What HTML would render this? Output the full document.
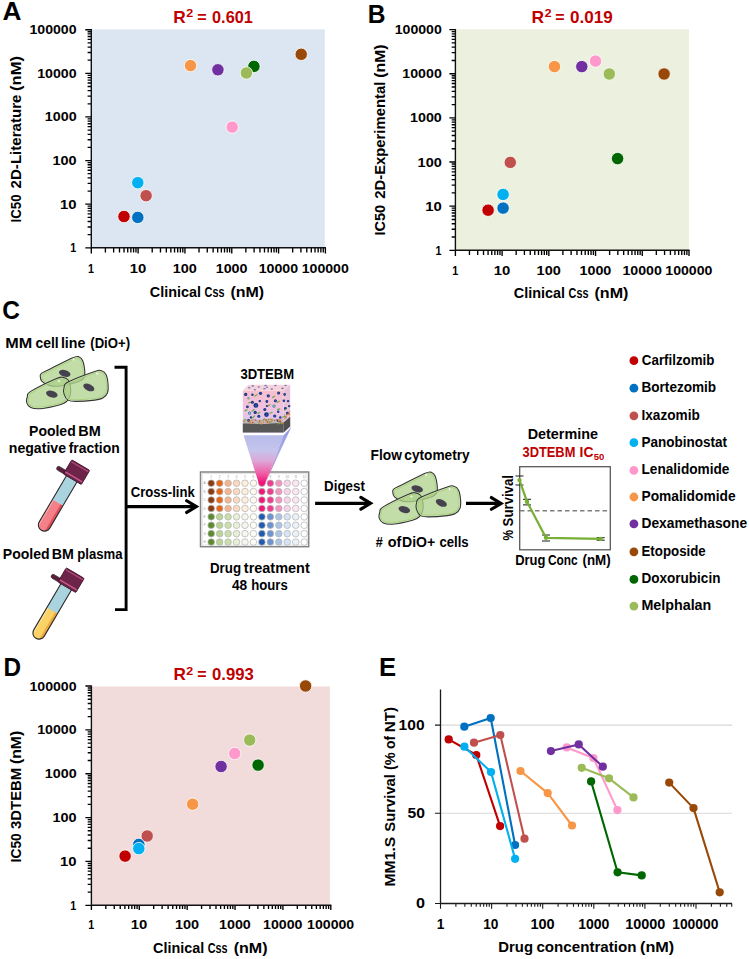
<!DOCTYPE html>
<html><head><meta charset="utf-8"><style>
html,body{margin:0;padding:0;background:#fff;overflow:hidden;width:749px;height:959px;}
svg{display:block;}
text{font-family:"Liberation Sans", sans-serif;white-space:pre;}
</style></head><body>
<svg xml:space="preserve" width="749" height="959" viewBox="0 0 749 959">
<rect width="749" height="959" fill="#fff"/>

<text x="2.55" y="19.80" font-size="25" font-weight="bold" fill="#000" textLength="18.94" lengthAdjust="spacingAndGlyphs" >A</text>
<text x="173.24" y="22.70" font-size="17" font-weight="bold" fill="#C00000" textLength="12.51" lengthAdjust="spacingAndGlyphs" >R</text>
<text x="186.27" y="17.40" font-size="10" font-weight="bold" fill="#C00000" textLength="6.93" lengthAdjust="spacingAndGlyphs" >2</text>
<text x="197.33" y="22.70" font-size="17" font-weight="bold" fill="#C00000" textLength="9.43" lengthAdjust="spacingAndGlyphs" >=</text>
<text x="212.06" y="22.70" font-size="17" font-weight="bold" fill="#C00000" textLength="40.80" lengthAdjust="spacingAndGlyphs" >0.601</text>
<rect x="91.90" y="29.40" width="232.90" height="218.40" fill="#DCE6F2"/>
<path d="M105.39,247.80v4.6 M91.30,234.67h-3.7 M113.64,247.80v4.6 M91.30,226.99h-3.7 M119.49,247.80v4.6 M91.30,221.54h-3.7 M124.03,247.80v4.6 M91.30,217.31h-3.7 M127.73,247.80v4.6 M91.30,213.86h-3.7 M130.87,247.80v4.6 M91.30,210.94h-3.7 M133.58,247.80v4.6 M91.30,208.41h-3.7 M135.98,247.80v4.6 M91.30,206.18h-3.7 M138.12,247.80v5.8 M91.30,204.18h-6.0 M152.21,247.80v4.6 M91.30,191.05h-3.7 M160.46,247.80v4.6 M91.30,183.37h-3.7 M166.31,247.80v4.6 M91.30,177.92h-3.7 M170.85,247.80v4.6 M91.30,173.69h-3.7 M174.55,247.80v4.6 M91.30,170.24h-3.7 M177.69,247.80v4.6 M91.30,167.32h-3.7 M180.40,247.80v4.6 M91.30,164.79h-3.7 M182.80,247.80v4.6 M91.30,162.56h-3.7 M184.94,247.80v5.8 M91.30,160.56h-6.0 M199.03,247.80v4.6 M91.30,147.43h-3.7 M207.28,247.80v4.6 M91.30,139.75h-3.7 M213.13,247.80v4.6 M91.30,134.30h-3.7 M217.67,247.80v4.6 M91.30,130.07h-3.7 M221.37,247.80v4.6 M91.30,126.62h-3.7 M224.51,247.80v4.6 M91.30,123.70h-3.7 M227.22,247.80v4.6 M91.30,121.17h-3.7 M229.62,247.80v4.6 M91.30,118.94h-3.7 M231.76,247.80v5.8 M91.30,116.94h-6.0 M245.85,247.80v4.6 M91.30,103.81h-3.7 M254.10,247.80v4.6 M91.30,96.13h-3.7 M259.95,247.80v4.6 M91.30,90.68h-3.7 M264.49,247.80v4.6 M91.30,86.45h-3.7 M268.19,247.80v4.6 M91.30,83.00h-3.7 M271.33,247.80v4.6 M91.30,80.08h-3.7 M274.04,247.80v4.6 M91.30,77.55h-3.7 M276.44,247.80v4.6 M91.30,75.32h-3.7 M278.58,247.80v5.8 M91.30,73.32h-6.0 M292.67,247.80v4.6 M91.30,60.19h-3.7 M300.92,247.80v4.6 M91.30,52.51h-3.7 M306.77,247.80v4.6 M91.30,47.06h-3.7 M311.31,247.80v4.6 M91.30,42.83h-3.7 M315.01,247.80v4.6 M91.30,39.38h-3.7 M318.15,247.80v4.6 M91.30,36.46h-3.7 M320.86,247.80v4.6 M91.30,33.93h-3.7 M323.26,247.80v4.6 M91.30,31.70h-3.7 M325.40,247.80v5.8 M91.30,29.70h-6 M91.30,247.80v5.8 M91.30,247.80h-6" stroke="#000" stroke-width="1.35" fill="none"/>
<path d="M91.30,29.10V247.80H326.00" stroke="#111" stroke-width="1.4" fill="none"/>
<text x="70.32" y="252.30" font-size="13.0" font-weight="bold" fill="#000" textLength="5.98" lengthAdjust="spacingAndGlyphs" >1</text>
<text x="88.12" y="272.90" font-size="13.0" font-weight="bold" fill="#000" textLength="5.98" lengthAdjust="spacingAndGlyphs" >1</text>
<text x="60.06" y="208.68" font-size="13.0" font-weight="bold" fill="#000" textLength="16.55" lengthAdjust="spacingAndGlyphs" >10</text>
<text x="129.68" y="272.90" font-size="13.0" font-weight="bold" fill="#000" textLength="16.55" lengthAdjust="spacingAndGlyphs" >10</text>
<text x="52.44" y="165.06" font-size="13.0" font-weight="bold" fill="#000" textLength="24.16" lengthAdjust="spacingAndGlyphs" >100</text>
<text x="172.70" y="272.90" font-size="13.0" font-weight="bold" fill="#000" textLength="24.16" lengthAdjust="spacingAndGlyphs" >100</text>
<text x="44.80" y="121.44" font-size="13.0" font-weight="bold" fill="#000" textLength="31.79" lengthAdjust="spacingAndGlyphs" >1000</text>
<text x="215.71" y="272.90" font-size="13.0" font-weight="bold" fill="#000" textLength="31.79" lengthAdjust="spacingAndGlyphs" >1000</text>
<text x="37.16" y="77.82" font-size="13.0" font-weight="bold" fill="#000" textLength="39.42" lengthAdjust="spacingAndGlyphs" >10000</text>
<text x="258.71" y="272.90" font-size="13.0" font-weight="bold" fill="#000" textLength="39.42" lengthAdjust="spacingAndGlyphs" >10000</text>
<text x="29.51" y="34.20" font-size="13.0" font-weight="bold" fill="#000" textLength="47.07" lengthAdjust="spacingAndGlyphs" >100000</text>
<text x="301.71" y="272.90" font-size="13.0" font-weight="bold" fill="#000" textLength="47.07" lengthAdjust="spacingAndGlyphs" >100000</text>
<text x="149.81" y="297.00" font-size="14.8" font-weight="bold" fill="#000" textLength="51.21" lengthAdjust="spacingAndGlyphs" >Clinical</text>
<text x="204.56" y="297.00" font-size="14.8" font-weight="bold" fill="#000" textLength="19.89" lengthAdjust="spacingAndGlyphs" >Css</text>
<text x="230.50" y="297.00" font-size="14.8" font-weight="bold" fill="#000" textLength="33.69" lengthAdjust="spacingAndGlyphs" >(nM)</text>
<text transform="translate(20.80,0) rotate(-90)" x="-222.49" y="0" font-size="14.8" font-weight="bold" fill="#000" textLength="28.03" lengthAdjust="spacingAndGlyphs" >IC50</text>
<text transform="translate(20.80,0) rotate(-90)" x="-188.42" y="0" font-size="14.8" font-weight="bold" fill="#000" textLength="93.84" lengthAdjust="spacingAndGlyphs" >2D-Literature</text>
<text transform="translate(20.80,0) rotate(-90)" x="-90.92" y="0" font-size="14.8" font-weight="bold" fill="#000" textLength="34.85" lengthAdjust="spacingAndGlyphs" >(nM)</text>
<circle cx="124.0" cy="216.5" r="6.2" fill="#C00000" stroke="#fff" stroke-width="0.8"/>
<circle cx="137.8" cy="217.4" r="6.2" fill="#0070C0" stroke="#fff" stroke-width="0.8"/>
<circle cx="146.1" cy="195.7" r="6.2" fill="#C0504D" stroke="#fff" stroke-width="0.8"/>
<circle cx="137.8" cy="182.7" r="6.2" fill="#00B0F0" stroke="#fff" stroke-width="0.8"/>
<circle cx="232.2" cy="127.1" r="6.2" fill="#FF99CC" stroke="#fff" stroke-width="0.8"/>
<circle cx="190.5" cy="65.6" r="6.2" fill="#F79646" stroke="#fff" stroke-width="0.8"/>
<circle cx="217.9" cy="69.8" r="6.2" fill="#7030A0" stroke="#fff" stroke-width="0.8"/>
<circle cx="301.2" cy="54.3" r="6.2" fill="#984807" stroke="#fff" stroke-width="0.8"/>
<circle cx="253.9" cy="66.4" r="6.2" fill="#006600" stroke="#fff" stroke-width="0.8"/>
<circle cx="246.4" cy="73.0" r="6.2" fill="#9BBB59" stroke="#fff" stroke-width="0.8"/>
<text x="367.75" y="22.70" font-size="25" font-weight="bold" fill="#000" textLength="17.76" lengthAdjust="spacingAndGlyphs" >B</text>
<text x="531.53" y="22.70" font-size="17" font-weight="bold" fill="#C00000" textLength="12.63" lengthAdjust="spacingAndGlyphs" >R</text>
<text x="544.68" y="17.40" font-size="10" font-weight="bold" fill="#C00000" textLength="6.82" lengthAdjust="spacingAndGlyphs" >2</text>
<text x="555.34" y="22.70" font-size="17" font-weight="bold" fill="#C00000" textLength="9.32" lengthAdjust="spacingAndGlyphs" >=</text>
<text x="570.03" y="22.70" font-size="17" font-weight="bold" fill="#C00000" textLength="42.71" lengthAdjust="spacingAndGlyphs" >0.019</text>
<rect x="456.00" y="29.30" width="233.00" height="221.00" fill="#EBF1DE"/>
<path d="M469.46,250.30v4.6 M455.40,237.01h-3.7 M477.69,250.30v4.6 M455.40,229.24h-3.7 M483.53,250.30v4.6 M455.40,223.73h-3.7 M488.06,250.30v4.6 M455.40,219.45h-3.7 M491.76,250.30v4.6 M455.40,215.95h-3.7 M494.88,250.30v4.6 M455.40,213.00h-3.7 M497.59,250.30v4.6 M455.40,210.44h-3.7 M499.98,250.30v4.6 M455.40,208.18h-3.7 M502.12,250.30v5.8 M455.40,206.16h-6.0 M516.18,250.30v4.6 M455.40,192.87h-3.7 M524.41,250.30v4.6 M455.40,185.10h-3.7 M530.25,250.30v4.6 M455.40,179.59h-3.7 M534.78,250.30v4.6 M455.40,175.31h-3.7 M538.48,250.30v4.6 M455.40,171.81h-3.7 M541.60,250.30v4.6 M455.40,168.86h-3.7 M544.31,250.30v4.6 M455.40,166.30h-3.7 M546.70,250.30v4.6 M455.40,164.04h-3.7 M548.84,250.30v5.8 M455.40,162.02h-6.0 M562.90,250.30v4.6 M455.40,148.73h-3.7 M571.13,250.30v4.6 M455.40,140.96h-3.7 M576.97,250.30v4.6 M455.40,135.45h-3.7 M581.50,250.30v4.6 M455.40,131.17h-3.7 M585.20,250.30v4.6 M455.40,127.67h-3.7 M588.32,250.30v4.6 M455.40,124.72h-3.7 M591.03,250.30v4.6 M455.40,122.16h-3.7 M593.42,250.30v4.6 M455.40,119.90h-3.7 M595.56,250.30v5.8 M455.40,117.88h-6.0 M609.62,250.30v4.6 M455.40,104.59h-3.7 M617.85,250.30v4.6 M455.40,96.82h-3.7 M623.69,250.30v4.6 M455.40,91.31h-3.7 M628.22,250.30v4.6 M455.40,87.03h-3.7 M631.92,250.30v4.6 M455.40,83.53h-3.7 M635.04,250.30v4.6 M455.40,80.58h-3.7 M637.75,250.30v4.6 M455.40,78.02h-3.7 M640.14,250.30v4.6 M455.40,75.76h-3.7 M642.28,250.30v5.8 M455.40,73.74h-6.0 M656.34,250.30v4.6 M455.40,60.45h-3.7 M664.57,250.30v4.6 M455.40,52.68h-3.7 M670.41,250.30v4.6 M455.40,47.17h-3.7 M674.94,250.30v4.6 M455.40,42.89h-3.7 M678.64,250.30v4.6 M455.40,39.39h-3.7 M681.76,250.30v4.6 M455.40,36.44h-3.7 M684.47,250.30v4.6 M455.40,33.88h-3.7 M686.86,250.30v4.6 M455.40,31.62h-3.7 M689.00,250.30v5.8 M455.40,29.60h-6 M455.40,250.30v5.8 M455.40,250.30h-6" stroke="#000" stroke-width="1.35" fill="none"/>
<path d="M455.40,29.00V250.30H689.60" stroke="#111" stroke-width="1.4" fill="none"/>
<text x="435.52" y="254.80" font-size="13.0" font-weight="bold" fill="#000" textLength="5.98" lengthAdjust="spacingAndGlyphs" >1</text>
<text x="452.22" y="274.70" font-size="13.0" font-weight="bold" fill="#000" textLength="5.98" lengthAdjust="spacingAndGlyphs" >1</text>
<text x="425.26" y="210.66" font-size="13.0" font-weight="bold" fill="#000" textLength="16.55" lengthAdjust="spacingAndGlyphs" >10</text>
<text x="493.68" y="274.70" font-size="13.0" font-weight="bold" fill="#000" textLength="16.55" lengthAdjust="spacingAndGlyphs" >10</text>
<text x="417.64" y="166.52" font-size="13.0" font-weight="bold" fill="#000" textLength="24.16" lengthAdjust="spacingAndGlyphs" >100</text>
<text x="536.60" y="274.70" font-size="13.0" font-weight="bold" fill="#000" textLength="24.16" lengthAdjust="spacingAndGlyphs" >100</text>
<text x="410.00" y="122.38" font-size="13.0" font-weight="bold" fill="#000" textLength="31.79" lengthAdjust="spacingAndGlyphs" >1000</text>
<text x="579.51" y="274.70" font-size="13.0" font-weight="bold" fill="#000" textLength="31.79" lengthAdjust="spacingAndGlyphs" >1000</text>
<text x="402.36" y="78.24" font-size="13.0" font-weight="bold" fill="#000" textLength="39.42" lengthAdjust="spacingAndGlyphs" >10000</text>
<text x="622.41" y="274.70" font-size="13.0" font-weight="bold" fill="#000" textLength="39.42" lengthAdjust="spacingAndGlyphs" >10000</text>
<text x="394.71" y="34.10" font-size="13.0" font-weight="bold" fill="#000" textLength="47.07" lengthAdjust="spacingAndGlyphs" >100000</text>
<text x="665.31" y="274.70" font-size="13.0" font-weight="bold" fill="#000" textLength="47.07" lengthAdjust="spacingAndGlyphs" >100000</text>
<text x="513.81" y="298.00" font-size="14.8" font-weight="bold" fill="#000" textLength="51.21" lengthAdjust="spacingAndGlyphs" >Clinical</text>
<text x="568.56" y="298.00" font-size="14.8" font-weight="bold" fill="#000" textLength="19.89" lengthAdjust="spacingAndGlyphs" >Css</text>
<text x="594.50" y="298.00" font-size="14.8" font-weight="bold" fill="#000" textLength="33.90" lengthAdjust="spacingAndGlyphs" >(nM)</text>
<text transform="translate(385.10,0) rotate(-90)" x="-235.47" y="0" font-size="14.8" font-weight="bold" fill="#000" textLength="30.67" lengthAdjust="spacingAndGlyphs" >IC50</text>
<text transform="translate(385.10,0) rotate(-90)" x="-198.71" y="0" font-size="14.8" font-weight="bold" fill="#000" textLength="116.96" lengthAdjust="spacingAndGlyphs" >2D-Experimental</text>
<text transform="translate(385.10,0) rotate(-90)" x="-77.79" y="0" font-size="14.8" font-weight="bold" fill="#000" textLength="33.38" lengthAdjust="spacingAndGlyphs" >(nM)</text>
<circle cx="488.1" cy="210.2" r="6.2" fill="#C00000" stroke="#fff" stroke-width="0.8"/>
<circle cx="503.1" cy="208.1" r="6.2" fill="#0070C0" stroke="#fff" stroke-width="0.8"/>
<circle cx="510.3" cy="162.4" r="6.2" fill="#C0504D" stroke="#fff" stroke-width="0.8"/>
<circle cx="503.1" cy="194.4" r="6.2" fill="#00B0F0" stroke="#fff" stroke-width="0.8"/>
<circle cx="595.5" cy="61.1" r="6.2" fill="#FF99CC" stroke="#fff" stroke-width="0.8"/>
<circle cx="554.5" cy="66.6" r="6.2" fill="#F79646" stroke="#fff" stroke-width="0.8"/>
<circle cx="581.8" cy="66.6" r="6.2" fill="#7030A0" stroke="#fff" stroke-width="0.8"/>
<circle cx="664.1" cy="74.0" r="6.2" fill="#984807" stroke="#fff" stroke-width="0.8"/>
<circle cx="617.6" cy="158.6" r="6.2" fill="#006600" stroke="#fff" stroke-width="0.8"/>
<circle cx="609.3" cy="74.0" r="6.2" fill="#9BBB59" stroke="#fff" stroke-width="0.8"/>
<text x="3.47" y="675.80" font-size="25" font-weight="bold" fill="#000" textLength="17.55" lengthAdjust="spacingAndGlyphs" >D</text>
<text x="173.55" y="680.10" font-size="17" font-weight="bold" fill="#C00000" textLength="12.40" lengthAdjust="spacingAndGlyphs" >R</text>
<text x="186.27" y="674.80" font-size="10" font-weight="bold" fill="#C00000" textLength="6.93" lengthAdjust="spacingAndGlyphs" >2</text>
<text x="197.34" y="680.10" font-size="17" font-weight="bold" fill="#C00000" textLength="9.32" lengthAdjust="spacingAndGlyphs" >=</text>
<text x="212.04" y="680.10" font-size="17" font-weight="bold" fill="#C00000" textLength="41.76" lengthAdjust="spacingAndGlyphs" >0.993</text>
<rect x="92.00" y="686.50" width="237.90" height="218.80" fill="#F2DCDB"/>
<path d="M105.81,905.30v3.6 M91.40,892.10h-3.7 M114.24,905.30v3.6 M91.40,884.37h-3.7 M120.23,905.30v3.6 M91.40,878.89h-3.7 M124.87,905.30v3.6 M91.40,874.64h-3.7 M128.66,905.30v3.6 M91.40,871.17h-3.7 M131.86,905.30v3.6 M91.40,868.23h-3.7 M134.64,905.30v3.6 M91.40,865.69h-3.7 M137.09,905.30v3.6 M91.40,863.45h-3.7 M139.28,905.30v4.6 M91.40,861.44h-6.0 M153.69,905.30v3.6 M91.40,848.24h-3.7 M162.12,905.30v3.6 M91.40,840.51h-3.7 M168.11,905.30v3.6 M91.40,835.03h-3.7 M172.75,905.30v3.6 M91.40,830.78h-3.7 M176.54,905.30v3.6 M91.40,827.31h-3.7 M179.74,905.30v3.6 M91.40,824.37h-3.7 M182.52,905.30v3.6 M91.40,821.83h-3.7 M184.97,905.30v3.6 M91.40,819.59h-3.7 M187.16,905.30v4.6 M91.40,817.58h-6.0 M201.57,905.30v3.6 M91.40,804.38h-3.7 M210.00,905.30v3.6 M91.40,796.65h-3.7 M215.99,905.30v3.6 M91.40,791.17h-3.7 M220.63,905.30v3.6 M91.40,786.92h-3.7 M224.42,905.30v3.6 M91.40,783.45h-3.7 M227.62,905.30v3.6 M91.40,780.51h-3.7 M230.40,905.30v3.6 M91.40,777.97h-3.7 M232.85,905.30v3.6 M91.40,775.73h-3.7 M235.04,905.30v4.6 M91.40,773.72h-6.0 M249.45,905.30v3.6 M91.40,760.52h-3.7 M257.88,905.30v3.6 M91.40,752.79h-3.7 M263.87,905.30v3.6 M91.40,747.31h-3.7 M268.51,905.30v3.6 M91.40,743.06h-3.7 M272.30,905.30v3.6 M91.40,739.59h-3.7 M275.50,905.30v3.6 M91.40,736.65h-3.7 M278.28,905.30v3.6 M91.40,734.11h-3.7 M280.73,905.30v3.6 M91.40,731.87h-3.7 M282.92,905.30v4.6 M91.40,729.86h-6.0 M297.33,905.30v3.6 M91.40,716.66h-3.7 M305.76,905.30v3.6 M91.40,708.93h-3.7 M311.75,905.30v3.6 M91.40,703.45h-3.7 M316.39,905.30v3.6 M91.40,699.20h-3.7 M320.18,905.30v3.6 M91.40,695.73h-3.7 M323.38,905.30v3.6 M91.40,692.79h-3.7 M326.16,905.30v3.6 M91.40,690.25h-3.7 M328.61,905.30v3.6 M91.40,688.01h-3.7 M330.80,905.30v4.6 M91.40,686.00h-6 M91.40,905.30v4.6 M91.40,905.30h-6" stroke="#000" stroke-width="1.35" fill="none"/>
<path d="M91.40,685.40V905.30H331.40" stroke="#111" stroke-width="1.4" fill="none"/>
<text x="70.32" y="909.90" font-size="13.0" font-weight="bold" fill="#000" textLength="5.98" lengthAdjust="spacingAndGlyphs" >1</text>
<text x="88.22" y="929.10" font-size="13.0" font-weight="bold" fill="#000" textLength="5.98" lengthAdjust="spacingAndGlyphs" >1</text>
<text x="60.06" y="866.02" font-size="13.0" font-weight="bold" fill="#000" textLength="16.55" lengthAdjust="spacingAndGlyphs" >10</text>
<text x="130.84" y="929.10" font-size="13.0" font-weight="bold" fill="#000" textLength="16.55" lengthAdjust="spacingAndGlyphs" >10</text>
<text x="52.44" y="822.14" font-size="13.0" font-weight="bold" fill="#000" textLength="24.16" lengthAdjust="spacingAndGlyphs" >100</text>
<text x="174.92" y="929.10" font-size="13.0" font-weight="bold" fill="#000" textLength="24.16" lengthAdjust="spacingAndGlyphs" >100</text>
<text x="44.80" y="778.26" font-size="13.0" font-weight="bold" fill="#000" textLength="31.79" lengthAdjust="spacingAndGlyphs" >1000</text>
<text x="218.99" y="929.10" font-size="13.0" font-weight="bold" fill="#000" textLength="31.79" lengthAdjust="spacingAndGlyphs" >1000</text>
<text x="37.16" y="734.38" font-size="13.0" font-weight="bold" fill="#000" textLength="39.42" lengthAdjust="spacingAndGlyphs" >10000</text>
<text x="263.05" y="929.10" font-size="13.0" font-weight="bold" fill="#000" textLength="39.42" lengthAdjust="spacingAndGlyphs" >10000</text>
<text x="29.51" y="690.50" font-size="13.0" font-weight="bold" fill="#000" textLength="47.07" lengthAdjust="spacingAndGlyphs" >100000</text>
<text x="307.11" y="929.10" font-size="13.0" font-weight="bold" fill="#000" textLength="47.07" lengthAdjust="spacingAndGlyphs" >100000</text>
<text x="153.01" y="953.40" font-size="14.8" font-weight="bold" fill="#000" textLength="51.21" lengthAdjust="spacingAndGlyphs" >Clinical</text>
<text x="207.76" y="953.40" font-size="14.8" font-weight="bold" fill="#000" textLength="19.89" lengthAdjust="spacingAndGlyphs" >Css</text>
<text x="233.70" y="953.40" font-size="14.8" font-weight="bold" fill="#000" textLength="33.90" lengthAdjust="spacingAndGlyphs" >(nM)</text>
<text transform="translate(20.90,0) rotate(-90)" x="-862.42" y="0" font-size="14.8" font-weight="bold" fill="#000" textLength="29.19" lengthAdjust="spacingAndGlyphs" >IC50</text>
<text transform="translate(20.90,0) rotate(-90)" x="-828.94" y="0" font-size="14.8" font-weight="bold" fill="#000" textLength="61.14" lengthAdjust="spacingAndGlyphs" >3DTEBM</text>
<text transform="translate(20.90,0) rotate(-90)" x="-764.09" y="0" font-size="14.8" font-weight="bold" fill="#000" textLength="33.27" lengthAdjust="spacingAndGlyphs" >(nM)</text>
<circle cx="125.1" cy="856.1" r="6.2" fill="#C00000" stroke="#fff" stroke-width="0.8"/>
<circle cx="138.8" cy="844.4" r="6.2" fill="#0070C0" stroke="#fff" stroke-width="0.8"/>
<circle cx="147.2" cy="836.0" r="6.2" fill="#C0504D" stroke="#fff" stroke-width="0.8"/>
<circle cx="138.8" cy="848.6" r="6.2" fill="#00B0F0" stroke="#fff" stroke-width="0.8"/>
<circle cx="234.7" cy="753.5" r="6.2" fill="#FF99CC" stroke="#fff" stroke-width="0.8"/>
<circle cx="192.6" cy="804.2" r="6.2" fill="#F79646" stroke="#fff" stroke-width="0.8"/>
<circle cx="221.1" cy="766.5" r="6.2" fill="#7030A0" stroke="#fff" stroke-width="0.8"/>
<circle cx="305.6" cy="686.0" r="6.2" fill="#984807" stroke="#fff" stroke-width="0.8"/>
<circle cx="258.1" cy="765.1" r="6.2" fill="#006600" stroke="#fff" stroke-width="0.8"/>
<circle cx="249.7" cy="740.1" r="6.2" fill="#9BBB59" stroke="#fff" stroke-width="0.8"/>
<text x="378.98" y="676.00" font-size="25" font-weight="bold" fill="#000" textLength="17.12" lengthAdjust="spacingAndGlyphs" >E</text>
<path d="M441,725.1H732.3M441,813.3H732.3" stroke="#D9D9D9" stroke-width="1.1"/>
<path d="M440.50,903.5v5.2 M455.88,903.5v3.2 M464.88,903.5v3.2 M471.27,903.5v3.2 M476.22,903.5v3.2 M480.26,903.5v3.2 M483.68,903.5v3.2 M486.65,903.5v3.2 M489.26,903.5v3.2 M491.60,903.5v5.2 M506.98,903.5v3.2 M515.98,903.5v3.2 M522.37,903.5v3.2 M527.32,903.5v3.2 M531.36,903.5v3.2 M534.78,903.5v3.2 M537.75,903.5v3.2 M540.36,903.5v3.2 M542.70,903.5v5.2 M558.08,903.5v3.2 M567.08,903.5v3.2 M573.47,903.5v3.2 M578.42,903.5v3.2 M582.46,903.5v3.2 M585.88,903.5v3.2 M588.85,903.5v3.2 M591.46,903.5v3.2 M593.80,903.5v5.2 M609.18,903.5v3.2 M618.18,903.5v3.2 M624.57,903.5v3.2 M629.52,903.5v3.2 M633.56,903.5v3.2 M636.98,903.5v3.2 M639.95,903.5v3.2 M642.56,903.5v3.2 M644.90,903.5v5.2 M660.28,903.5v3.2 M669.28,903.5v3.2 M675.67,903.5v3.2 M680.62,903.5v3.2 M684.66,903.5v3.2 M688.08,903.5v3.2 M691.05,903.5v3.2 M693.66,903.5v3.2 M696.00,903.5v5.2 M711.38,903.5v3.2 M720.38,903.5v3.2 M726.77,903.5v3.2 M731.72,903.5v3.2 M440.5,725.1h-5.5M440.5,813.3h-5.5M440.5,903.5h-5.5" stroke="#1a1a1a" stroke-width="1.1" fill="none"/>
<path d="M440.5,689.4V903.5H732" stroke="#1a1a1a" stroke-width="1.3" fill="none"/>
<text x="398.62" y="729.70" font-size="14.2" font-weight="bold" fill="#000" textLength="25.92" lengthAdjust="spacingAndGlyphs" >100</text>
<text x="407.52" y="818.30" font-size="14.2" font-weight="bold" fill="#000" textLength="17.42" lengthAdjust="spacingAndGlyphs" >50</text>
<text x="415.96" y="908.40" font-size="14.2" font-weight="bold" fill="#000" textLength="9.00" lengthAdjust="spacingAndGlyphs" >0</text>
<text x="436.63" y="928.70" font-size="14.0" font-weight="bold" fill="#000" textLength="7.65" lengthAdjust="spacingAndGlyphs" >1</text>
<text x="483.14" y="928.70" font-size="14.0" font-weight="bold" fill="#000" textLength="15.22" lengthAdjust="spacingAndGlyphs" >10</text>
<text x="530.49" y="928.70" font-size="14.0" font-weight="bold" fill="#000" textLength="24.21" lengthAdjust="spacingAndGlyphs" >100</text>
<text x="578.22" y="928.70" font-size="14.0" font-weight="bold" fill="#000" textLength="31.16" lengthAdjust="spacingAndGlyphs" >1000</text>
<text x="625.39" y="928.70" font-size="14.0" font-weight="bold" fill="#000" textLength="40.00" lengthAdjust="spacingAndGlyphs" >10000</text>
<text x="672.23" y="928.70" font-size="14.0" font-weight="bold" fill="#000" textLength="46.14" lengthAdjust="spacingAndGlyphs" >100000</text>
<text x="498.31" y="952.10" font-size="14.8" font-weight="bold" fill="#000" textLength="34.69" lengthAdjust="spacingAndGlyphs" >Drug</text>
<text x="536.41" y="952.10" font-size="14.8" font-weight="bold" fill="#000" textLength="100.13" lengthAdjust="spacingAndGlyphs" >concentration</text>
<text x="639.99" y="952.10" font-size="14.8" font-weight="bold" fill="#000" textLength="34.22" lengthAdjust="spacingAndGlyphs" >(nM)</text>
<text transform="translate(394.70,0) rotate(-90)" x="-886.45" y="0" font-size="14.8" font-weight="bold" fill="#000" textLength="49.66" lengthAdjust="spacingAndGlyphs" >MM1.S</text>
<text transform="translate(394.70,0) rotate(-90)" x="-831.63" y="0" font-size="14.8" font-weight="bold" fill="#000" textLength="57.57" lengthAdjust="spacingAndGlyphs" >Survival</text>
<text transform="translate(394.70,0) rotate(-90)" x="-770.02" y="0" font-size="14.8" font-weight="bold" fill="#000" textLength="17.70" lengthAdjust="spacingAndGlyphs" >(%</text>
<text transform="translate(394.70,0) rotate(-90)" x="-749.04" y="0" font-size="14.8" font-weight="bold" fill="#000" textLength="13.01" lengthAdjust="spacingAndGlyphs" >of</text>
<text transform="translate(394.70,0) rotate(-90)" x="-732.31" y="0" font-size="14.8" font-weight="bold" fill="#000" textLength="25.27" lengthAdjust="spacingAndGlyphs" >NT)</text>
<path d="M448.7,739.4 L476.3,755.0 L500.1,826.1" stroke="#C00000" stroke-width="2.1" fill="none" stroke-linejoin="round"/>
<circle cx="448.7" cy="739.4" r="4.1" fill="#C00000"/>
<circle cx="476.3" cy="755.0" r="4.1" fill="#C00000"/>
<circle cx="500.1" cy="826.1" r="4.1" fill="#C00000"/>
<path d="M464.3,726.7 L490.7,718.0 L515.1,845.0" stroke="#0070C0" stroke-width="2.1" fill="none" stroke-linejoin="round"/>
<circle cx="464.3" cy="726.7" r="4.1" fill="#0070C0"/>
<circle cx="490.7" cy="718.0" r="4.1" fill="#0070C0"/>
<circle cx="515.1" cy="845.0" r="4.1" fill="#0070C0"/>
<path d="M474.0,742.7 L500.3,735.0 L524.5,838.7" stroke="#C0504D" stroke-width="2.1" fill="none" stroke-linejoin="round"/>
<circle cx="474.0" cy="742.7" r="4.1" fill="#C0504D"/>
<circle cx="500.3" cy="735.0" r="4.1" fill="#C0504D"/>
<circle cx="524.5" cy="838.7" r="4.1" fill="#C0504D"/>
<path d="M464.4,746.7 L491.0,772.1 L515.1,858.8" stroke="#00B0F0" stroke-width="2.1" fill="none" stroke-linejoin="round"/>
<circle cx="464.4" cy="746.7" r="4.1" fill="#00B0F0"/>
<circle cx="491.0" cy="772.1" r="4.1" fill="#00B0F0"/>
<circle cx="515.1" cy="858.8" r="4.1" fill="#00B0F0"/>
<path d="M566.7,747.4 L593.4,758.0 L617.4,810.1" stroke="#FF99CC" stroke-width="2.1" fill="none" stroke-linejoin="round"/>
<circle cx="566.7" cy="747.4" r="4.1" fill="#FF99CC"/>
<circle cx="593.4" cy="758.0" r="4.1" fill="#FF99CC"/>
<circle cx="617.4" cy="810.1" r="4.1" fill="#FF99CC"/>
<path d="M520.5,771.0 L547.7,793.1 L572.0,825.5" stroke="#F79646" stroke-width="2.1" fill="none" stroke-linejoin="round"/>
<circle cx="520.5" cy="771.0" r="4.1" fill="#F79646"/>
<circle cx="547.7" cy="793.1" r="4.1" fill="#F79646"/>
<circle cx="572.0" cy="825.5" r="4.1" fill="#F79646"/>
<path d="M550.9,751.1 L578.7,744.4 L602.8,766.7" stroke="#7030A0" stroke-width="2.1" fill="none" stroke-linejoin="round"/>
<circle cx="550.9" cy="751.1" r="4.1" fill="#7030A0"/>
<circle cx="578.7" cy="744.4" r="4.1" fill="#7030A0"/>
<circle cx="602.8" cy="766.7" r="4.1" fill="#7030A0"/>
<path d="M669.2,782.6 L693.5,808.1 L719.7,892.3" stroke="#984807" stroke-width="2.1" fill="none" stroke-linejoin="round"/>
<circle cx="669.2" cy="782.6" r="4.1" fill="#984807"/>
<circle cx="693.5" cy="808.1" r="4.1" fill="#984807"/>
<circle cx="719.7" cy="892.3" r="4.1" fill="#984807"/>
<path d="M591.1,781.4 L617.6,872.3 L641.7,875.4" stroke="#006600" stroke-width="2.1" fill="none" stroke-linejoin="round"/>
<circle cx="591.1" cy="781.4" r="4.1" fill="#006600"/>
<circle cx="617.6" cy="872.3" r="4.1" fill="#006600"/>
<circle cx="641.7" cy="875.4" r="4.1" fill="#006600"/>
<path d="M581.7,767.8 L609.0,778.3 L633.5,797.4" stroke="#9BBB59" stroke-width="2.1" fill="none" stroke-linejoin="round"/>
<circle cx="581.7" cy="767.8" r="4.1" fill="#9BBB59"/>
<circle cx="609.0" cy="778.3" r="4.1" fill="#9BBB59"/>
<circle cx="633.5" cy="797.4" r="4.1" fill="#9BBB59"/>
<g id="cells"><clipPath id="cc0"><path d="M41.40,373.40 C43.13,372.07 45.58,371.27 50.70,368.70 C55.82,366.13 67.43,360.00 72.10,358.00 C76.77,356.00 76.93,356.25 78.70,356.70 C80.47,357.15 81.68,358.25 82.70,360.70 C83.72,363.15 84.57,368.62 84.80,371.40 C85.03,374.18 85.12,375.73 84.10,377.40 C83.08,379.07 82.70,379.97 78.70,381.40 C74.70,382.83 64.98,385.33 60.10,386.00 C55.22,386.67 52.42,386.17 49.40,385.40 C46.38,384.63 43.52,382.85 42.00,381.40 C40.48,379.95 40.40,378.03 40.30,376.70 C40.20,375.37 39.67,374.73 41.40,373.40Z"/></clipPath><path d="M41.40,373.40 C43.13,372.07 45.58,371.27 50.70,368.70 C55.82,366.13 67.43,360.00 72.10,358.00 C76.77,356.00 76.93,356.25 78.70,356.70 C80.47,357.15 81.68,358.25 82.70,360.70 C83.72,363.15 84.57,368.62 84.80,371.40 C85.03,374.18 85.12,375.73 84.10,377.40 C83.08,379.07 82.70,379.97 78.70,381.40 C74.70,382.83 64.98,385.33 60.10,386.00 C55.22,386.67 52.42,386.17 49.40,385.40 C46.38,384.63 43.52,382.85 42.00,381.40 C40.48,379.95 40.40,378.03 40.30,376.70 C40.20,375.37 39.67,374.73 41.40,373.40Z" fill="#AFD28B" fill-opacity="0.76"/><path d="M41.40,373.40 C43.13,372.07 45.58,371.27 50.70,368.70 C55.82,366.13 67.43,360.00 72.10,358.00 C76.77,356.00 76.93,356.25 78.70,356.70 C80.47,357.15 81.68,358.25 82.70,360.70 C83.72,363.15 84.57,368.62 84.80,371.40 C85.03,374.18 85.12,375.73 84.10,377.40 C83.08,379.07 82.70,379.97 78.70,381.40 C74.70,382.83 64.98,385.33 60.10,386.00 C55.22,386.67 52.42,386.17 49.40,385.40 C46.38,384.63 43.52,382.85 42.00,381.40 C40.48,379.95 40.40,378.03 40.30,376.70 C40.20,375.37 39.67,374.73 41.40,373.40Z" fill="none" stroke="#94C95C" stroke-width="4.2" clip-path="url(#cc0)" stroke-opacity="0.55"/><path d="M41.40,373.40 C43.13,372.07 45.58,371.27 50.70,368.70 C55.82,366.13 67.43,360.00 72.10,358.00 C76.77,356.00 76.93,356.25 78.70,356.70 C80.47,357.15 81.68,358.25 82.70,360.70 C83.72,363.15 84.57,368.62 84.80,371.40 C85.03,374.18 85.12,375.73 84.10,377.40 C83.08,379.07 82.70,379.97 78.70,381.40 C74.70,382.83 64.98,385.33 60.10,386.00 C55.22,386.67 52.42,386.17 49.40,385.40 C46.38,384.63 43.52,382.85 42.00,381.40 C40.48,379.95 40.40,378.03 40.30,376.70 C40.20,375.37 39.67,374.73 41.40,373.40Z" fill="none" stroke="#E4F2D6" stroke-width="2.2" clip-path="url(#cc0)" stroke-opacity="0.9"/><path d="M41.40,373.40 C43.13,372.07 45.58,371.27 50.70,368.70 C55.82,366.13 67.43,360.00 72.10,358.00 C76.77,356.00 76.93,356.25 78.70,356.70 C80.47,357.15 81.68,358.25 82.70,360.70 C83.72,363.15 84.57,368.62 84.80,371.40 C85.03,374.18 85.12,375.73 84.10,377.40 C83.08,379.07 82.70,379.97 78.70,381.40 C74.70,382.83 64.98,385.33 60.10,386.00 C55.22,386.67 52.42,386.17 49.40,385.40 C46.38,384.63 43.52,382.85 42.00,381.40 C40.48,379.95 40.40,378.03 40.30,376.70 C40.20,375.37 39.67,374.73 41.40,373.40Z" fill="none" stroke="#363636" stroke-width="1.1"/><ellipse cx="64.7" cy="373.4" rx="5.9" ry="3.3" transform="rotate(15 64.7 373.4)" fill="#45414F"/><clipPath id="cc1"><path d="M27.30,396.70 C27.97,394.82 25.92,394.40 30.70,391.40 C35.48,388.40 50.67,381.03 56.00,378.70 C61.33,376.37 60.68,377.18 62.70,377.40 C64.72,377.62 66.80,378.33 68.10,380.00 C69.40,381.67 70.17,384.83 70.50,387.40 C70.83,389.97 70.73,393.07 70.10,395.40 C69.47,397.73 68.37,399.85 66.70,401.40 C65.03,402.95 64.55,403.48 60.10,404.70 C55.65,405.92 44.90,408.25 40.00,408.70 C35.10,409.15 32.92,408.40 30.70,407.40 C28.48,406.40 27.27,404.48 26.70,402.70 C26.13,400.92 26.63,398.58 27.30,396.70Z"/></clipPath><path d="M27.30,396.70 C27.97,394.82 25.92,394.40 30.70,391.40 C35.48,388.40 50.67,381.03 56.00,378.70 C61.33,376.37 60.68,377.18 62.70,377.40 C64.72,377.62 66.80,378.33 68.10,380.00 C69.40,381.67 70.17,384.83 70.50,387.40 C70.83,389.97 70.73,393.07 70.10,395.40 C69.47,397.73 68.37,399.85 66.70,401.40 C65.03,402.95 64.55,403.48 60.10,404.70 C55.65,405.92 44.90,408.25 40.00,408.70 C35.10,409.15 32.92,408.40 30.70,407.40 C28.48,406.40 27.27,404.48 26.70,402.70 C26.13,400.92 26.63,398.58 27.30,396.70Z" fill="#AFD28B" fill-opacity="0.76"/><path d="M27.30,396.70 C27.97,394.82 25.92,394.40 30.70,391.40 C35.48,388.40 50.67,381.03 56.00,378.70 C61.33,376.37 60.68,377.18 62.70,377.40 C64.72,377.62 66.80,378.33 68.10,380.00 C69.40,381.67 70.17,384.83 70.50,387.40 C70.83,389.97 70.73,393.07 70.10,395.40 C69.47,397.73 68.37,399.85 66.70,401.40 C65.03,402.95 64.55,403.48 60.10,404.70 C55.65,405.92 44.90,408.25 40.00,408.70 C35.10,409.15 32.92,408.40 30.70,407.40 C28.48,406.40 27.27,404.48 26.70,402.70 C26.13,400.92 26.63,398.58 27.30,396.70Z" fill="none" stroke="#94C95C" stroke-width="4.2" clip-path="url(#cc1)" stroke-opacity="0.55"/><path d="M27.30,396.70 C27.97,394.82 25.92,394.40 30.70,391.40 C35.48,388.40 50.67,381.03 56.00,378.70 C61.33,376.37 60.68,377.18 62.70,377.40 C64.72,377.62 66.80,378.33 68.10,380.00 C69.40,381.67 70.17,384.83 70.50,387.40 C70.83,389.97 70.73,393.07 70.10,395.40 C69.47,397.73 68.37,399.85 66.70,401.40 C65.03,402.95 64.55,403.48 60.10,404.70 C55.65,405.92 44.90,408.25 40.00,408.70 C35.10,409.15 32.92,408.40 30.70,407.40 C28.48,406.40 27.27,404.48 26.70,402.70 C26.13,400.92 26.63,398.58 27.30,396.70Z" fill="none" stroke="#E4F2D6" stroke-width="2.2" clip-path="url(#cc1)" stroke-opacity="0.9"/><path d="M27.30,396.70 C27.97,394.82 25.92,394.40 30.70,391.40 C35.48,388.40 50.67,381.03 56.00,378.70 C61.33,376.37 60.68,377.18 62.70,377.40 C64.72,377.62 66.80,378.33 68.10,380.00 C69.40,381.67 70.17,384.83 70.50,387.40 C70.83,389.97 70.73,393.07 70.10,395.40 C69.47,397.73 68.37,399.85 66.70,401.40 C65.03,402.95 64.55,403.48 60.10,404.70 C55.65,405.92 44.90,408.25 40.00,408.70 C35.10,409.15 32.92,408.40 30.70,407.40 C28.48,406.40 27.27,404.48 26.70,402.70 C26.13,400.92 26.63,398.58 27.30,396.70Z" fill="none" stroke="#363636" stroke-width="1.1"/><ellipse cx="51.8" cy="394.1" rx="5.9" ry="3.3" transform="rotate(15 51.8 394.1)" fill="#45414F"/><clipPath id="cc2"><path d="M64.10,387.40 C64.77,385.38 62.98,384.67 68.10,382.00 C73.22,379.33 89.25,373.28 94.80,371.40 C100.35,369.52 99.52,370.15 101.40,370.70 C103.28,371.25 104.98,372.37 106.10,374.70 C107.22,377.03 107.87,381.70 108.10,384.70 C108.33,387.70 108.38,390.47 107.50,392.70 C106.62,394.93 104.92,396.87 102.80,398.10 C100.68,399.33 99.25,399.55 94.80,400.10 C90.35,400.65 80.55,401.40 76.10,401.40 C71.65,401.40 70.10,401.32 68.10,400.10 C66.10,398.88 64.77,396.22 64.10,394.10 C63.43,391.98 63.43,389.42 64.10,387.40Z"/></clipPath><path d="M64.10,387.40 C64.77,385.38 62.98,384.67 68.10,382.00 C73.22,379.33 89.25,373.28 94.80,371.40 C100.35,369.52 99.52,370.15 101.40,370.70 C103.28,371.25 104.98,372.37 106.10,374.70 C107.22,377.03 107.87,381.70 108.10,384.70 C108.33,387.70 108.38,390.47 107.50,392.70 C106.62,394.93 104.92,396.87 102.80,398.10 C100.68,399.33 99.25,399.55 94.80,400.10 C90.35,400.65 80.55,401.40 76.10,401.40 C71.65,401.40 70.10,401.32 68.10,400.10 C66.10,398.88 64.77,396.22 64.10,394.10 C63.43,391.98 63.43,389.42 64.10,387.40Z" fill="#AFD28B" fill-opacity="0.76"/><path d="M64.10,387.40 C64.77,385.38 62.98,384.67 68.10,382.00 C73.22,379.33 89.25,373.28 94.80,371.40 C100.35,369.52 99.52,370.15 101.40,370.70 C103.28,371.25 104.98,372.37 106.10,374.70 C107.22,377.03 107.87,381.70 108.10,384.70 C108.33,387.70 108.38,390.47 107.50,392.70 C106.62,394.93 104.92,396.87 102.80,398.10 C100.68,399.33 99.25,399.55 94.80,400.10 C90.35,400.65 80.55,401.40 76.10,401.40 C71.65,401.40 70.10,401.32 68.10,400.10 C66.10,398.88 64.77,396.22 64.10,394.10 C63.43,391.98 63.43,389.42 64.10,387.40Z" fill="none" stroke="#94C95C" stroke-width="4.2" clip-path="url(#cc2)" stroke-opacity="0.55"/><path d="M64.10,387.40 C64.77,385.38 62.98,384.67 68.10,382.00 C73.22,379.33 89.25,373.28 94.80,371.40 C100.35,369.52 99.52,370.15 101.40,370.70 C103.28,371.25 104.98,372.37 106.10,374.70 C107.22,377.03 107.87,381.70 108.10,384.70 C108.33,387.70 108.38,390.47 107.50,392.70 C106.62,394.93 104.92,396.87 102.80,398.10 C100.68,399.33 99.25,399.55 94.80,400.10 C90.35,400.65 80.55,401.40 76.10,401.40 C71.65,401.40 70.10,401.32 68.10,400.10 C66.10,398.88 64.77,396.22 64.10,394.10 C63.43,391.98 63.43,389.42 64.10,387.40Z" fill="none" stroke="#E4F2D6" stroke-width="2.2" clip-path="url(#cc2)" stroke-opacity="0.9"/><path d="M64.10,387.40 C64.77,385.38 62.98,384.67 68.10,382.00 C73.22,379.33 89.25,373.28 94.80,371.40 C100.35,369.52 99.52,370.15 101.40,370.70 C103.28,371.25 104.98,372.37 106.10,374.70 C107.22,377.03 107.87,381.70 108.10,384.70 C108.33,387.70 108.38,390.47 107.50,392.70 C106.62,394.93 104.92,396.87 102.80,398.10 C100.68,399.33 99.25,399.55 94.80,400.10 C90.35,400.65 80.55,401.40 76.10,401.40 C71.65,401.40 70.10,401.32 68.10,400.10 C66.10,398.88 64.77,396.22 64.10,394.10 C63.43,391.98 63.43,389.42 64.10,387.40Z" fill="none" stroke="#363636" stroke-width="1.1"/><ellipse cx="88.8" cy="387.4" rx="5.9" ry="3.3" transform="rotate(25 88.8 387.4)" fill="#45414F"/><circle cx="73.5" cy="359.5" r="0.9" fill="#fff"/><circle cx="59" cy="381" r="0.9" fill="#fff"/><circle cx="97" cy="373.5" r="0.9" fill="#fff"/></g>
<use href="#cells" transform="translate(352.5,115.5)"/>
<g transform="translate(44.5,525.0) rotate(30.5)"><clipPath id="tc1"><path d="M-6.1,-55V0A6.1,6.1 0 0 0 6.1,0V-55Z"/></clipPath><g clip-path="url(#tc1)"><rect x="-7" y="-56" width="14" height="31" fill="#A9D3DF"/><rect x="-7" y="-26" width="14" height="34" fill="#F48189"/><rect x="3.3" y="-26" width="3.5" height="34" fill="#E0505C"/><rect x="-6" y="-26" width="1.6" height="30" fill="#fff" opacity="0.35"/></g><path d="M-6.1,-55V0A6.1,6.1 0 0 0 6.1,0V-55" fill="none" stroke="#2b2b2b" stroke-width="1.1"/><rect x="-18.5" y="-58" width="10.5" height="4.2" rx="2" fill="#5B1F3C" stroke="#2b2b2b" stroke-width="0.6"/><rect x="-9.6" y="-70" width="20.8" height="16.5" rx="1" fill="#6E2448" stroke="#3a1025" stroke-width="0.8"/><rect x="-9" y="-57" width="19.6" height="1.4" fill="#C65A8C"/><rect x="-9" y="-68.8" width="19.6" height="1.2" fill="#B04A7C"/></g>
<g transform="translate(39.0,633.0) rotate(30.5)"><clipPath id="tc2"><path d="M-6.1,-55V0A6.1,6.1 0 0 0 6.1,0V-55Z"/></clipPath><g clip-path="url(#tc2)"><rect x="-7" y="-56" width="14" height="31" fill="#A9D3DF"/><rect x="-7" y="-26" width="14" height="34" fill="#FAD266"/><rect x="3.3" y="-26" width="3.5" height="34" fill="#F0A840"/><rect x="-6" y="-26" width="1.6" height="30" fill="#fff" opacity="0.35"/></g><path d="M-6.1,-55V0A6.1,6.1 0 0 0 6.1,0V-55" fill="none" stroke="#2b2b2b" stroke-width="1.1"/><rect x="-18.5" y="-58" width="10.5" height="4.2" rx="2" fill="#5B1F3C" stroke="#2b2b2b" stroke-width="0.6"/><rect x="-9.6" y="-70" width="20.8" height="16.5" rx="1" fill="#6E2448" stroke="#3a1025" stroke-width="0.8"/><rect x="-9" y="-57" width="19.6" height="1.4" fill="#C65A8C"/><rect x="-9" y="-68.8" width="19.6" height="1.2" fill="#B04A7C"/></g>
<path d="M114.5,367.3H126.1V609.6H115" stroke="#000" stroke-width="2.9" fill="none"/>
<path d="M126.1,506.6H195.3" stroke="#000" stroke-width="3.2" fill="none"/>
<path d="M186.70000000000002,500.75L196.3,506.6L186.70000000000002,512.45" stroke="#000" stroke-width="3.2" fill="none" stroke-linecap="round" stroke-linejoin="miter"/>
<path d="M315.1,503.3H369.5" stroke="#000" stroke-width="3.2" fill="none"/>
<path d="M360.9,497.45L370.5,503.3L360.9,509.15000000000003" stroke="#000" stroke-width="3.2" fill="none" stroke-linecap="round" stroke-linejoin="miter"/>
<path d="M466.0,503.4H500.0" stroke="#000" stroke-width="3.2" fill="none"/>
<path d="M491.4,497.54999999999995L501.0,503.4L491.4,509.25" stroke="#000" stroke-width="3.2" fill="none" stroke-linecap="round" stroke-linejoin="miter"/>
<text x="2.20" y="318.60" font-size="25" font-weight="bold" fill="#000" textLength="17.67" lengthAdjust="spacingAndGlyphs" >C</text>
<text x="5.22" y="347.90" font-size="14.5" font-weight="bold" fill="#000" textLength="26.97" lengthAdjust="spacingAndGlyphs" >MM</text>
<text x="35.46" y="347.90" font-size="14.5" font-weight="bold" fill="#000" textLength="23.23" lengthAdjust="spacingAndGlyphs" >cell</text>
<text x="60.91" y="347.90" font-size="14.5" font-weight="bold" fill="#000" textLength="24.37" lengthAdjust="spacingAndGlyphs" >line</text>
<text x="90.25" y="347.90" font-size="14.5" font-weight="bold" fill="#000" textLength="39.81" lengthAdjust="spacingAndGlyphs" >(DiO+)</text>
<text x="29.06" y="436.10" font-size="14.5" font-weight="bold" fill="#000" textLength="46.66" lengthAdjust="spacingAndGlyphs" >Pooled</text>
<text x="78.34" y="436.10" font-size="14.5" font-weight="bold" fill="#000" textLength="22.43" lengthAdjust="spacingAndGlyphs" >BM</text>
<text x="8.77" y="452.70" font-size="14.5" font-weight="bold" fill="#000" textLength="57.31" lengthAdjust="spacingAndGlyphs" >negative</text>
<text x="68.76" y="452.70" font-size="14.5" font-weight="bold" fill="#000" textLength="50.90" lengthAdjust="spacingAndGlyphs" >fraction</text>
<text x="2.76" y="559.10" font-size="14.5" font-weight="bold" fill="#000" textLength="46.87" lengthAdjust="spacingAndGlyphs" >Pooled</text>
<text x="51.65" y="559.10" font-size="14.5" font-weight="bold" fill="#000" textLength="22.10" lengthAdjust="spacingAndGlyphs" >BM</text>
<text x="77.33" y="559.10" font-size="14.5" font-weight="bold" fill="#000" textLength="45.28" lengthAdjust="spacingAndGlyphs" >plasma</text>
<text x="130.76" y="497.00" font-size="14.5" font-weight="bold" fill="#000" textLength="64.02" lengthAdjust="spacingAndGlyphs" >Cross-link</text>
<text x="240.40" y="378.80" font-size="14.5" font-weight="bold" fill="#000" textLength="53.78" lengthAdjust="spacingAndGlyphs" >3DTEBM</text>
<text x="210.01" y="572.50" font-size="14.5" font-weight="bold" fill="#000" textLength="31.08" lengthAdjust="spacingAndGlyphs" >Drug</text>
<text x="243.82" y="572.50" font-size="14.5" font-weight="bold" fill="#000" textLength="65.95" lengthAdjust="spacingAndGlyphs" >treatment</text>
<text x="231.99" y="589.90" font-size="14.5" font-weight="bold" fill="#000" textLength="15.23" lengthAdjust="spacingAndGlyphs" >48</text>
<text x="251.28" y="589.90" font-size="14.5" font-weight="bold" fill="#000" textLength="36.45" lengthAdjust="spacingAndGlyphs" >hours</text>
<text x="324.11" y="491.40" font-size="14.5" font-weight="bold" fill="#000" textLength="40.75" lengthAdjust="spacingAndGlyphs" >Digest</text>
<text x="370.58" y="460.20" font-size="14.5" font-weight="bold" fill="#000" textLength="31.40" lengthAdjust="spacingAndGlyphs" >Flow</text>
<text x="404.27" y="460.20" font-size="14.5" font-weight="bold" fill="#000" textLength="65.41" lengthAdjust="spacingAndGlyphs" >cytometry</text>
<text x="375.78" y="547.40" font-size="14.5" font-weight="bold" fill="#000" textLength="7.02" lengthAdjust="spacingAndGlyphs" >#</text>
<text x="387.64" y="547.40" font-size="14.5" font-weight="bold" fill="#000" textLength="13.64" lengthAdjust="spacingAndGlyphs" >of</text>
<text x="402.06" y="547.40" font-size="14.5" font-weight="bold" fill="#000" textLength="33.21" lengthAdjust="spacingAndGlyphs" >DiO+</text>
<text x="439.39" y="547.40" font-size="14.5" font-weight="bold" fill="#000" textLength="29.25" lengthAdjust="spacingAndGlyphs" >cells</text>
<text x="527.64" y="439.40" font-size="14.5" font-weight="bold" fill="#000" textLength="70.35" lengthAdjust="spacingAndGlyphs" >Determine</text>
<text x="522.50" y="456.70" font-size="14.5" font-weight="bold" fill="#C00000" textLength="52.86" lengthAdjust="spacingAndGlyphs" >3DTEBM</text>
<text x="579.57" y="456.70" font-size="14.5" font-weight="bold" fill="#C00000" textLength="13.91" lengthAdjust="spacingAndGlyphs" >IC</text>
<text x="593.71" y="460.20" font-size="9.6" font-weight="bold" fill="#C00000" textLength="10.58" lengthAdjust="spacingAndGlyphs" >50</text>
<text x="515.23" y="564.50" font-size="14.5" font-weight="bold" fill="#000" textLength="30.23" lengthAdjust="spacingAndGlyphs" >Drug</text>
<text x="547.91" y="564.50" font-size="14.5" font-weight="bold" fill="#000" textLength="29.63" lengthAdjust="spacingAndGlyphs" >Conc</text>
<text x="582.43" y="564.50" font-size="14.5" font-weight="bold" fill="#000" textLength="28.23" lengthAdjust="spacingAndGlyphs" >(nM)</text>
<text transform="translate(513.00,0) rotate(-90)" x="-540.59" y="0" font-size="14.5" font-weight="bold" fill="#000" textLength="10.51" lengthAdjust="spacingAndGlyphs" >%</text>
<text transform="translate(513.00,0) rotate(-90)" x="-526.38" y="0" font-size="14.5" font-weight="bold" fill="#000" textLength="51.31" lengthAdjust="spacingAndGlyphs" >Survival</text>
<rect x="519.7" y="466.7" width="90.6" height="83.1" fill="#fff" stroke="#595959" stroke-width="1.3"/>
<path d="M520,510.8H610" stroke="#808080" stroke-width="1.4" stroke-dasharray="4.5,3"/>
<path d="M515.5,476H523.5M515.5,485H523.5M523,499.3H531M523,504.9H531M542,535H550M542,541H550M596.7,537.7H604.7M596.7,540.2H604.7" stroke="#1a1a1a" stroke-width="1"/>
<path d="M519.5,480.1L527,501.7L546,537.8L600.7,538.9" stroke="#77B034" stroke-width="2.2" fill="none"/>
<circle cx="519.5" cy="480.1" r="2.2" fill="#77B034"/>
<circle cx="527" cy="501.7" r="2.2" fill="#77B034"/>
<circle cx="546" cy="537.8" r="2.2" fill="#77B034"/>
<circle cx="600.7" cy="538.9" r="2.2" fill="#77B034"/>
<circle cx="633.9" cy="360.7" r="4.4" fill="#C00000"/>
<text x="641.85" y="364.50" font-size="14.5" font-weight="bold" fill="#000" textLength="72.59" lengthAdjust="spacingAndGlyphs" >Carfilzomib</text>
<circle cx="633.9" cy="388.2" r="4.4" fill="#0070C0"/>
<text x="641.49" y="392.00" font-size="14.5" font-weight="bold" fill="#000" textLength="74.66" lengthAdjust="spacingAndGlyphs" >Bortezomib</text>
<circle cx="633.9" cy="415.8" r="4.4" fill="#C0504D"/>
<text x="641.49" y="419.60" font-size="14.5" font-weight="bold" fill="#000" textLength="58.27" lengthAdjust="spacingAndGlyphs" >Ixazomib</text>
<circle cx="633.9" cy="442.7" r="4.4" fill="#00B0F0"/>
<text x="641.50" y="446.50" font-size="14.5" font-weight="bold" fill="#000" textLength="85.47" lengthAdjust="spacingAndGlyphs" >Panobinostat</text>
<circle cx="633.9" cy="470.3" r="4.4" fill="#FF99CC"/>
<text x="641.49" y="474.10" font-size="14.5" font-weight="bold" fill="#000" textLength="87.88" lengthAdjust="spacingAndGlyphs" >Lenalidomide</text>
<circle cx="633.9" cy="497.0" r="4.4" fill="#F79646"/>
<text x="641.48" y="500.80" font-size="14.5" font-weight="bold" fill="#000" textLength="94.09" lengthAdjust="spacingAndGlyphs" >Pomalidomide</text>
<circle cx="633.9" cy="523.9" r="4.4" fill="#7030A0"/>
<text x="641.48" y="527.70" font-size="14.5" font-weight="bold" fill="#000" textLength="105.59" lengthAdjust="spacingAndGlyphs" >Dexamethasone</text>
<circle cx="633.9" cy="551.8" r="4.4" fill="#984807"/>
<text x="641.51" y="555.60" font-size="14.5" font-weight="bold" fill="#000" textLength="64.24" lengthAdjust="spacingAndGlyphs" >Etoposide</text>
<circle cx="633.9" cy="579.4" r="4.4" fill="#006600"/>
<text x="641.49" y="583.20" font-size="14.5" font-weight="bold" fill="#000" textLength="78.94" lengthAdjust="spacingAndGlyphs" >Doxorubicin</text>
<circle cx="633.9" cy="606.1" r="4.4" fill="#9BBB59"/>
<text x="641.44" y="609.90" font-size="14.5" font-weight="bold" fill="#000" textLength="69.84" lengthAdjust="spacingAndGlyphs" >Melphalan</text>
<rect x="200.5" y="472.0" width="108.2" height="74.7" fill="#fff" stroke="#858585" stroke-width="1.5"/><rect x="202.2" y="473.7" width="104.8" height="71.3" fill="none" stroke="#dcdcdc" stroke-width="0.8"/>
<circle cx="211.20" cy="483.20" r="3.3" fill="#8B3A12" stroke="#B4B4B4" stroke-width="0.75"/><circle cx="219.65" cy="483.20" r="3.3" fill="#E8651A" stroke="#B4B4B4" stroke-width="0.75"/><circle cx="228.10" cy="483.20" r="3.3" fill="#F6B38C" stroke="#B4B4B4" stroke-width="0.75"/><circle cx="236.55" cy="483.20" r="3.3" fill="#FAD9BF" stroke="#B4B4B4" stroke-width="0.75"/><circle cx="245.00" cy="483.20" r="3.3" fill="#FDF0DA" stroke="#B4B4B4" stroke-width="0.75"/><circle cx="253.45" cy="483.20" r="3.3" fill="#FEFAF0" stroke="#B4B4B4" stroke-width="0.75"/><circle cx="261.90" cy="483.20" r="3.3" fill="#EC1A78" stroke="#B4B4B4" stroke-width="0.75"/><circle cx="270.35" cy="483.20" r="3.3" fill="#EE3D8E" stroke="#B4B4B4" stroke-width="0.75"/><circle cx="278.80" cy="483.20" r="3.3" fill="#F593C3" stroke="#B4B4B4" stroke-width="0.75"/><circle cx="287.25" cy="483.20" r="3.3" fill="#FAD3E7" stroke="#B4B4B4" stroke-width="0.75"/><circle cx="295.70" cy="483.20" r="3.3" fill="#FCE6F1" stroke="#B4B4B4" stroke-width="0.75"/><circle cx="304.15" cy="483.20" r="3.3" fill="#FFFFFF" stroke="#B4B4B4" stroke-width="0.75"/><circle cx="211.20" cy="491.61" r="3.3" fill="#8B3A12" stroke="#B4B4B4" stroke-width="0.75"/><circle cx="219.65" cy="491.61" r="3.3" fill="#E8651A" stroke="#B4B4B4" stroke-width="0.75"/><circle cx="228.10" cy="491.61" r="3.3" fill="#F6B38C" stroke="#B4B4B4" stroke-width="0.75"/><circle cx="236.55" cy="491.61" r="3.3" fill="#FAD9BF" stroke="#B4B4B4" stroke-width="0.75"/><circle cx="245.00" cy="491.61" r="3.3" fill="#FDF0DA" stroke="#B4B4B4" stroke-width="0.75"/><circle cx="253.45" cy="491.61" r="3.3" fill="#FEFAF0" stroke="#B4B4B4" stroke-width="0.75"/><circle cx="261.90" cy="491.61" r="3.3" fill="#EC1A78" stroke="#B4B4B4" stroke-width="0.75"/><circle cx="270.35" cy="491.61" r="3.3" fill="#EE3D8E" stroke="#B4B4B4" stroke-width="0.75"/><circle cx="278.80" cy="491.61" r="3.3" fill="#F593C3" stroke="#B4B4B4" stroke-width="0.75"/><circle cx="287.25" cy="491.61" r="3.3" fill="#FAD3E7" stroke="#B4B4B4" stroke-width="0.75"/><circle cx="295.70" cy="491.61" r="3.3" fill="#FCE6F1" stroke="#B4B4B4" stroke-width="0.75"/><circle cx="304.15" cy="491.61" r="3.3" fill="#FFFFFF" stroke="#B4B4B4" stroke-width="0.75"/><circle cx="211.20" cy="500.02" r="3.3" fill="#8B3A12" stroke="#B4B4B4" stroke-width="0.75"/><circle cx="219.65" cy="500.02" r="3.3" fill="#E8651A" stroke="#B4B4B4" stroke-width="0.75"/><circle cx="228.10" cy="500.02" r="3.3" fill="#F6B38C" stroke="#B4B4B4" stroke-width="0.75"/><circle cx="236.55" cy="500.02" r="3.3" fill="#FAD9BF" stroke="#B4B4B4" stroke-width="0.75"/><circle cx="245.00" cy="500.02" r="3.3" fill="#FDF0DA" stroke="#B4B4B4" stroke-width="0.75"/><circle cx="253.45" cy="500.02" r="3.3" fill="#FEFAF0" stroke="#B4B4B4" stroke-width="0.75"/><circle cx="261.90" cy="500.02" r="3.3" fill="#EC1A78" stroke="#B4B4B4" stroke-width="0.75"/><circle cx="270.35" cy="500.02" r="3.3" fill="#EE3D8E" stroke="#B4B4B4" stroke-width="0.75"/><circle cx="278.80" cy="500.02" r="3.3" fill="#F593C3" stroke="#B4B4B4" stroke-width="0.75"/><circle cx="287.25" cy="500.02" r="3.3" fill="#FAD3E7" stroke="#B4B4B4" stroke-width="0.75"/><circle cx="295.70" cy="500.02" r="3.3" fill="#FCE6F1" stroke="#B4B4B4" stroke-width="0.75"/><circle cx="304.15" cy="500.02" r="3.3" fill="#FFFFFF" stroke="#B4B4B4" stroke-width="0.75"/><circle cx="211.20" cy="508.43" r="3.3" fill="#8B3A12" stroke="#B4B4B4" stroke-width="0.75"/><circle cx="219.65" cy="508.43" r="3.3" fill="#E8651A" stroke="#B4B4B4" stroke-width="0.75"/><circle cx="228.10" cy="508.43" r="3.3" fill="#F6B38C" stroke="#B4B4B4" stroke-width="0.75"/><circle cx="236.55" cy="508.43" r="3.3" fill="#FAD9BF" stroke="#B4B4B4" stroke-width="0.75"/><circle cx="245.00" cy="508.43" r="3.3" fill="#FDF0DA" stroke="#B4B4B4" stroke-width="0.75"/><circle cx="253.45" cy="508.43" r="3.3" fill="#FEFAF0" stroke="#B4B4B4" stroke-width="0.75"/><circle cx="261.90" cy="508.43" r="3.3" fill="#EC1A78" stroke="#B4B4B4" stroke-width="0.75"/><circle cx="270.35" cy="508.43" r="3.3" fill="#EE3D8E" stroke="#B4B4B4" stroke-width="0.75"/><circle cx="278.80" cy="508.43" r="3.3" fill="#F593C3" stroke="#B4B4B4" stroke-width="0.75"/><circle cx="287.25" cy="508.43" r="3.3" fill="#FAD3E7" stroke="#B4B4B4" stroke-width="0.75"/><circle cx="295.70" cy="508.43" r="3.3" fill="#FCE6F1" stroke="#B4B4B4" stroke-width="0.75"/><circle cx="304.15" cy="508.43" r="3.3" fill="#FFFFFF" stroke="#B4B4B4" stroke-width="0.75"/><circle cx="211.20" cy="516.84" r="3.3" fill="#5E8A2E" stroke="#B4B4B4" stroke-width="0.75"/><circle cx="219.65" cy="516.84" r="3.3" fill="#B9D493" stroke="#B4B4B4" stroke-width="0.75"/><circle cx="228.10" cy="516.84" r="3.3" fill="#CADFA8" stroke="#B4B4B4" stroke-width="0.75"/><circle cx="236.55" cy="516.84" r="3.3" fill="#E7F0D7" stroke="#B4B4B4" stroke-width="0.75"/><circle cx="245.00" cy="516.84" r="3.3" fill="#F4F8EB" stroke="#B4B4B4" stroke-width="0.75"/><circle cx="253.45" cy="516.84" r="3.3" fill="#FCFDF8" stroke="#B4B4B4" stroke-width="0.75"/><circle cx="261.90" cy="516.84" r="3.3" fill="#1F5BAE" stroke="#B4B4B4" stroke-width="0.75"/><circle cx="270.35" cy="516.84" r="3.3" fill="#6C94CF" stroke="#B4B4B4" stroke-width="0.75"/><circle cx="278.80" cy="516.84" r="3.3" fill="#AAC4E6" stroke="#B4B4B4" stroke-width="0.75"/><circle cx="287.25" cy="516.84" r="3.3" fill="#D7E4F4" stroke="#B4B4B4" stroke-width="0.75"/><circle cx="295.70" cy="516.84" r="3.3" fill="#EBF1FA" stroke="#B4B4B4" stroke-width="0.75"/><circle cx="304.15" cy="516.84" r="3.3" fill="#FFFFFF" stroke="#B4B4B4" stroke-width="0.75"/><circle cx="211.20" cy="525.25" r="3.3" fill="#5E8A2E" stroke="#B4B4B4" stroke-width="0.75"/><circle cx="219.65" cy="525.25" r="3.3" fill="#B9D493" stroke="#B4B4B4" stroke-width="0.75"/><circle cx="228.10" cy="525.25" r="3.3" fill="#CADFA8" stroke="#B4B4B4" stroke-width="0.75"/><circle cx="236.55" cy="525.25" r="3.3" fill="#E7F0D7" stroke="#B4B4B4" stroke-width="0.75"/><circle cx="245.00" cy="525.25" r="3.3" fill="#F4F8EB" stroke="#B4B4B4" stroke-width="0.75"/><circle cx="253.45" cy="525.25" r="3.3" fill="#FCFDF8" stroke="#B4B4B4" stroke-width="0.75"/><circle cx="261.90" cy="525.25" r="3.3" fill="#1F5BAE" stroke="#B4B4B4" stroke-width="0.75"/><circle cx="270.35" cy="525.25" r="3.3" fill="#6C94CF" stroke="#B4B4B4" stroke-width="0.75"/><circle cx="278.80" cy="525.25" r="3.3" fill="#AAC4E6" stroke="#B4B4B4" stroke-width="0.75"/><circle cx="287.25" cy="525.25" r="3.3" fill="#D7E4F4" stroke="#B4B4B4" stroke-width="0.75"/><circle cx="295.70" cy="525.25" r="3.3" fill="#EBF1FA" stroke="#B4B4B4" stroke-width="0.75"/><circle cx="304.15" cy="525.25" r="3.3" fill="#FFFFFF" stroke="#B4B4B4" stroke-width="0.75"/><circle cx="211.20" cy="533.66" r="3.3" fill="#5E8A2E" stroke="#B4B4B4" stroke-width="0.75"/><circle cx="219.65" cy="533.66" r="3.3" fill="#B9D493" stroke="#B4B4B4" stroke-width="0.75"/><circle cx="228.10" cy="533.66" r="3.3" fill="#CADFA8" stroke="#B4B4B4" stroke-width="0.75"/><circle cx="236.55" cy="533.66" r="3.3" fill="#E7F0D7" stroke="#B4B4B4" stroke-width="0.75"/><circle cx="245.00" cy="533.66" r="3.3" fill="#F4F8EB" stroke="#B4B4B4" stroke-width="0.75"/><circle cx="253.45" cy="533.66" r="3.3" fill="#FCFDF8" stroke="#B4B4B4" stroke-width="0.75"/><circle cx="261.90" cy="533.66" r="3.3" fill="#1F5BAE" stroke="#B4B4B4" stroke-width="0.75"/><circle cx="270.35" cy="533.66" r="3.3" fill="#6C94CF" stroke="#B4B4B4" stroke-width="0.75"/><circle cx="278.80" cy="533.66" r="3.3" fill="#AAC4E6" stroke="#B4B4B4" stroke-width="0.75"/><circle cx="287.25" cy="533.66" r="3.3" fill="#D7E4F4" stroke="#B4B4B4" stroke-width="0.75"/><circle cx="295.70" cy="533.66" r="3.3" fill="#EBF1FA" stroke="#B4B4B4" stroke-width="0.75"/><circle cx="304.15" cy="533.66" r="3.3" fill="#FFFFFF" stroke="#B4B4B4" stroke-width="0.75"/><circle cx="211.20" cy="542.07" r="3.3" fill="#5E8A2E" stroke="#B4B4B4" stroke-width="0.75"/><circle cx="219.65" cy="542.07" r="3.3" fill="#B9D493" stroke="#B4B4B4" stroke-width="0.75"/><circle cx="228.10" cy="542.07" r="3.3" fill="#CADFA8" stroke="#B4B4B4" stroke-width="0.75"/><circle cx="236.55" cy="542.07" r="3.3" fill="#E7F0D7" stroke="#B4B4B4" stroke-width="0.75"/><circle cx="245.00" cy="542.07" r="3.3" fill="#F4F8EB" stroke="#B4B4B4" stroke-width="0.75"/><circle cx="253.45" cy="542.07" r="3.3" fill="#FCFDF8" stroke="#B4B4B4" stroke-width="0.75"/><circle cx="261.90" cy="542.07" r="3.3" fill="#1F5BAE" stroke="#B4B4B4" stroke-width="0.75"/><circle cx="270.35" cy="542.07" r="3.3" fill="#6C94CF" stroke="#B4B4B4" stroke-width="0.75"/><circle cx="278.80" cy="542.07" r="3.3" fill="#AAC4E6" stroke="#B4B4B4" stroke-width="0.75"/><circle cx="287.25" cy="542.07" r="3.3" fill="#D7E4F4" stroke="#B4B4B4" stroke-width="0.75"/><circle cx="295.70" cy="542.07" r="3.3" fill="#EBF1FA" stroke="#B4B4B4" stroke-width="0.75"/><circle cx="304.15" cy="542.07" r="3.3" fill="#FFFFFF" stroke="#B4B4B4" stroke-width="0.75"/>
<text x="211.20" y="478.3" font-size="3" fill="#9a9a9a" text-anchor="middle" font-weight="normal">1</text><text x="219.65" y="478.3" font-size="3" fill="#9a9a9a" text-anchor="middle" font-weight="normal">2</text><text x="228.10" y="478.3" font-size="3" fill="#9a9a9a" text-anchor="middle" font-weight="normal">3</text><text x="236.55" y="478.3" font-size="3" fill="#9a9a9a" text-anchor="middle" font-weight="normal">4</text><text x="245.00" y="478.3" font-size="3" fill="#9a9a9a" text-anchor="middle" font-weight="normal">5</text><text x="253.45" y="478.3" font-size="3" fill="#9a9a9a" text-anchor="middle" font-weight="normal">6</text><text x="261.90" y="478.3" font-size="3" fill="#9a9a9a" text-anchor="middle" font-weight="normal">7</text><text x="270.35" y="478.3" font-size="3" fill="#9a9a9a" text-anchor="middle" font-weight="normal">8</text><text x="278.80" y="478.3" font-size="3" fill="#9a9a9a" text-anchor="middle" font-weight="normal">9</text><text x="287.25" y="478.3" font-size="3" fill="#9a9a9a" text-anchor="middle" font-weight="normal">10</text><text x="295.70" y="478.3" font-size="3" fill="#9a9a9a" text-anchor="middle" font-weight="normal">11</text><text x="304.15" y="478.3" font-size="3" fill="#9a9a9a" text-anchor="middle" font-weight="normal">12</text><text x="204.6" y="484.30" font-size="3" fill="#9a9a9a" text-anchor="middle" font-weight="normal">A</text><text x="204.6" y="492.71" font-size="3" fill="#9a9a9a" text-anchor="middle" font-weight="normal">B</text><text x="204.6" y="501.12" font-size="3" fill="#9a9a9a" text-anchor="middle" font-weight="normal">C</text><text x="204.6" y="509.53" font-size="3" fill="#9a9a9a" text-anchor="middle" font-weight="normal">D</text><text x="204.6" y="517.94" font-size="3" fill="#9a9a9a" text-anchor="middle" font-weight="normal">E</text><text x="204.6" y="526.35" font-size="3" fill="#9a9a9a" text-anchor="middle" font-weight="normal">F</text><text x="204.6" y="534.76" font-size="3" fill="#9a9a9a" text-anchor="middle" font-weight="normal">G</text><text x="204.6" y="543.17" font-size="3" fill="#9a9a9a" text-anchor="middle" font-weight="normal">H</text>
<defs>
<linearGradient id="fun" x1="0" y1="427" x2="0" y2="483" gradientUnits="userSpaceOnUse">
<stop offset="0" stop-color="#B1B8EA"/><stop offset="0.42" stop-color="#C4C4EC"/><stop offset="0.6" stop-color="#DCA8D8"/><stop offset="0.82" stop-color="#F060A8"/><stop offset="1" stop-color="#EE1479"/></linearGradient>
<linearGradient id="funr" x1="0" y1="427" x2="0" y2="483" gradientUnits="userSpaceOnUse">
<stop offset="0" stop-color="#8E97E0"/><stop offset="0.5" stop-color="#AEB0E6"/><stop offset="1" stop-color="#EE3C8E"/></linearGradient>
<linearGradient id="cubef" x1="0" y1="390" x2="0" y2="424" gradientUnits="userSpaceOnUse">
<stop offset="0" stop-color="#F6BFCB"/><stop offset="0.5" stop-color="#F1C2DF"/><stop offset="1" stop-color="#DAC6F2"/></linearGradient>
</defs>
<path d="M243.5,435.2L283.6,435.2L265.2,483.2Q262,486.5 258.8,483.2Z" fill="url(#fun)"/>
<path d="M283.6,435.2L291.4,427L265.2,483.2Z" fill="url(#funr)"/>
<path d="M242.8,390.6L248.4,384.8L290.2,384.8L283.6,390.6Z" fill="#F8D2DA"/>
<path d="M283.6,390.6L290.2,384.8L290.2,426.6L283.6,432.6Z" fill="#E7C2D8"/>
<rect x="242.8" y="390.6" width="40.8" height="42" fill="url(#cubef)"/>
<path d="M242.8,419.5 C250,418.2 258,420.5 266,419.8 C273,419.2 279,418.8 283.6,418.6 V424 H242.8Z" fill="#A9A68A" opacity="0.55"/>
<path d="M242.8,423.6 C250,422.8 258,424.6 266,424.0 C273,423.6 279,423.0 283.6,422.6 V432.6 H242.8Z" fill="#575757"/>
<path d="M283.6,422.6 L290.2,416.8 V426.6 L283.6,432.6Z" fill="#4E4E4E"/>
<rect x="254.1" y="394.8" width="3.6" height="1.2" rx="0.6" fill="#6FA83C" transform="rotate(-32 255.9 395.4)"/><rect x="271.8" y="396.3" width="3.6" height="1.2" rx="0.6" fill="#6FA83C" transform="rotate(-28 273.6 396.9)"/><rect x="248.1" y="401.9" width="3.6" height="1.2" rx="0.6" fill="#6FA83C" transform="rotate(-13 249.9 402.5)"/><rect x="267.2" y="404.8" width="3.6" height="1.2" rx="0.6" fill="#6FA83C" transform="rotate(-31 269.0 405.4)"/><rect x="276.4" y="401.2" width="3.6" height="1.2" rx="0.6" fill="#6FA83C" transform="rotate(-30 278.2 401.8)"/><rect x="244.2" y="409.7" width="3.6" height="1.2" rx="0.6" fill="#6FA83C" transform="rotate(-27 246.0 410.3)"/><rect x="251.3" y="409.7" width="3.6" height="1.2" rx="0.6" fill="#6FA83C" transform="rotate(-43 253.1 410.3)"/><rect x="257.0" y="412.2" width="3.6" height="1.2" rx="0.6" fill="#6FA83C" transform="rotate(-30 258.8 412.8)"/><rect x="269.3" y="412.2" width="3.6" height="1.2" rx="0.6" fill="#6FA83C" transform="rotate(-25 271.1 412.8)"/><rect x="276.8" y="408.6" width="3.6" height="1.2" rx="0.6" fill="#6FA83C" transform="rotate(-18 278.6 409.2)"/><rect x="252.0" y="416.1" width="3.6" height="1.2" rx="0.6" fill="#6FA83C" transform="rotate(-46 253.8 416.7)"/><rect x="261.9" y="418.9" width="3.6" height="1.2" rx="0.6" fill="#6FA83C" transform="rotate(-38 263.7 419.5)"/><rect x="283.5" y="408.3" width="3.6" height="1.2" rx="0.6" fill="#6FA83C" transform="rotate(-46 285.3 408.9)"/><rect x="282.1" y="416.1" width="3.6" height="1.2" rx="0.6" fill="#6FA83C" transform="rotate(-18 283.9 416.7)"/><circle cx="245.7" cy="394.4" r="1.6" fill="#17307A"/><circle cx="245.9" cy="394.5" r="0.8" fill="#2F55A8"/><circle cx="252.4" cy="394.7" r="1.2" fill="#17307A"/><circle cx="252.6" cy="394.8" r="0.6" fill="#2F55A8"/><circle cx="260.5" cy="393.3" r="1.6" fill="#17307A"/><circle cx="260.7" cy="393.4" r="0.8" fill="#2F55A8"/><circle cx="268.3" cy="395.8" r="1.6" fill="#17307A"/><circle cx="268.5" cy="395.9" r="0.8" fill="#2F55A8"/><circle cx="278.6" cy="393.0" r="1.5" fill="#17307A"/><circle cx="278.8" cy="393.1" r="0.8" fill="#2F55A8"/><circle cx="284.6" cy="394.4" r="1.3" fill="#17307A"/><circle cx="284.8" cy="394.5" r="0.7" fill="#2F55A8"/><circle cx="252.4" cy="402.2" r="1.5" fill="#17307A"/><circle cx="252.6" cy="402.3" r="0.8" fill="#2F55A8"/><circle cx="259.8" cy="401.1" r="1.2" fill="#17307A"/><circle cx="260.0" cy="401.2" r="0.6" fill="#2F55A8"/><circle cx="266.9" cy="401.5" r="1.4" fill="#17307A"/><circle cx="267.1" cy="401.6" r="0.7" fill="#2F55A8"/><circle cx="275.4" cy="400.8" r="1.5" fill="#17307A"/><circle cx="275.6" cy="400.9" r="0.8" fill="#2F55A8"/><circle cx="283.9" cy="400.8" r="1.3" fill="#17307A"/><circle cx="284.1" cy="400.9" r="0.7" fill="#2F55A8"/><circle cx="288.1" cy="401.1" r="1.2" fill="#17307A"/><circle cx="288.3" cy="401.2" r="0.6" fill="#2F55A8"/><circle cx="255.9" cy="405.4" r="2.4" fill="#17307A"/><circle cx="256.1" cy="405.5" r="1.2" fill="#2F55A8"/><circle cx="247.4" cy="406.8" r="1.4" fill="#17307A"/><circle cx="247.6" cy="406.9" r="0.7" fill="#2F55A8"/><circle cx="266.9" cy="406.1" r="1.0" fill="#17307A"/><circle cx="267.1" cy="406.2" r="0.5" fill="#2F55A8"/><circle cx="289.2" cy="406.1" r="1.2" fill="#17307A"/><circle cx="289.4" cy="406.2" r="0.6" fill="#2F55A8"/><circle cx="285.3" cy="408.2" r="1.3" fill="#17307A"/><circle cx="285.5" cy="408.3" r="0.7" fill="#2F55A8"/><circle cx="264.8" cy="409.6" r="1.5" fill="#17307A"/><circle cx="265.0" cy="409.7" r="0.8" fill="#2F55A8"/><circle cx="255.2" cy="412.4" r="1.6" fill="#17307A"/><circle cx="255.4" cy="412.5" r="0.8" fill="#2F55A8"/><circle cx="266.5" cy="414.6" r="2.3" fill="#17307A"/><circle cx="266.7" cy="414.7" r="1.1" fill="#2F55A8"/><circle cx="274.7" cy="416.0" r="1.6" fill="#17307A"/><circle cx="274.9" cy="416.1" r="0.8" fill="#2F55A8"/><circle cx="278.2" cy="411.7" r="1.2" fill="#17307A"/><circle cx="278.4" cy="411.8" r="0.6" fill="#2F55A8"/><circle cx="287.4" cy="413.1" r="1.4" fill="#17307A"/><circle cx="287.6" cy="413.2" r="0.7" fill="#2F55A8"/><circle cx="258.8" cy="416.3" r="1.5" fill="#17307A"/><circle cx="259.0" cy="416.4" r="0.8" fill="#2F55A8"/><circle cx="251.0" cy="417.4" r="1.2" fill="#17307A"/><circle cx="251.2" cy="417.5" r="0.6" fill="#2F55A8"/><circle cx="280.3" cy="417.4" r="1.2" fill="#17307A"/><circle cx="280.5" cy="417.5" r="0.6" fill="#2F55A8"/><circle cx="248.5" cy="420.2" r="1.2" fill="#17307A"/><circle cx="248.7" cy="420.3" r="0.6" fill="#2F55A8"/><circle cx="277.9" cy="420.6" r="1.2" fill="#17307A"/><circle cx="278.1" cy="420.7" r="0.6" fill="#2F55A8"/><circle cx="248.5" cy="398.3" r="1.1" fill="#3C7C8C"/><circle cx="248.5" cy="398.3" r="0.6" fill="#7FD0C0"/><circle cx="274.0" cy="406.1" r="1.6" fill="#3C7C8C"/><circle cx="274.0" cy="406.1" r="0.9" fill="#7FD0C0"/><circle cx="249.6" cy="413.1" r="1.6" fill="#3C7C8C"/><circle cx="249.6" cy="413.1" r="0.9" fill="#7FD0C0"/><ellipse cx="249.2" cy="387.7" rx="1.3" ry="0.8" fill="#5570B8" opacity="0.85"/><ellipse cx="252.7" cy="385.9" rx="1.3" ry="0.8" fill="#5570B8" opacity="0.85"/><ellipse cx="258.8" cy="387.0" rx="1.3" ry="0.8" fill="#5570B8" opacity="0.85"/><ellipse cx="265.5" cy="385.5" rx="1.3" ry="0.8" fill="#5570B8" opacity="0.85"/><ellipse cx="266.9" cy="387.3" rx="1.3" ry="0.8" fill="#5570B8" opacity="0.85"/><ellipse cx="271.8" cy="389.1" rx="1.3" ry="0.8" fill="#5570B8" opacity="0.85"/><ellipse cx="275.4" cy="385.5" rx="1.3" ry="0.8" fill="#5570B8" opacity="0.85"/><ellipse cx="282.5" cy="388.4" rx="1.3" ry="0.8" fill="#5570B8" opacity="0.85"/><ellipse cx="285.6" cy="385.5" rx="1.3" ry="0.8" fill="#5570B8" opacity="0.85"/><ellipse cx="254.9" cy="389.8" rx="1.3" ry="0.8" fill="#5570B8" opacity="0.85"/><ellipse cx="264.4" cy="388.7" rx="1.3" ry="0.8" fill="#5570B8" opacity="0.85"/><circle cx="271.0" cy="419.5" r="1.0" fill="#E09040"/><circle cx="269.5" cy="422.1" r="0.8" fill="#7FB04A"/><circle cx="276.6" cy="419.6" r="0.7" fill="#D0603A"/><circle cx="253.0" cy="419.4" r="0.7" fill="#E09040"/><circle cx="266.9" cy="420.2" r="0.9" fill="#7FB04A"/><circle cx="263.3" cy="422.3" r="0.9" fill="#E09040"/><circle cx="259.6" cy="421.8" r="0.9" fill="#D0603A"/><circle cx="255.9" cy="420.4" r="0.6" fill="#C84A3A"/><circle cx="265.8" cy="419.8" r="0.9" fill="#D0603A"/><circle cx="258.8" cy="423.7" r="0.6" fill="#6FA040"/><circle cx="251.7" cy="423.5" r="0.8" fill="#E09040"/><circle cx="271.7" cy="421.2" r="0.9" fill="#8AB050"/><circle cx="274.4" cy="420.5" r="0.7" fill="#D0603A"/><circle cx="243.9" cy="421.2" r="0.7" fill="#D0603A"/><circle cx="271.6" cy="419.4" r="0.9" fill="#E09040"/><circle cx="250.4" cy="421.9" r="0.8" fill="#E09040"/><circle cx="282.7" cy="422.8" r="0.9" fill="#E09040"/><circle cx="248.0" cy="421.2" r="0.6" fill="#7FB04A"/><circle cx="277.9" cy="423.8" r="0.7" fill="#8AB050"/><circle cx="278.7" cy="420.3" r="1.0" fill="#E09040"/><circle cx="267.4" cy="422.0" r="1.0" fill="#D0603A"/><circle cx="251.8" cy="420.5" r="0.7" fill="#8AB050"/><circle cx="255.2" cy="419.6" r="0.7" fill="#D0603A"/><circle cx="268.8" cy="419.4" r="0.7" fill="#C84A3A"/><circle cx="261.4" cy="423.7" r="0.9" fill="#E09040"/><circle cx="248.7" cy="421.1" r="0.7" fill="#6FA040"/><circle cx="279.6" cy="423.1" r="0.9" fill="#7FB04A"/><circle cx="249.6" cy="422.2" r="0.7" fill="#8AB050"/><circle cx="281.3" cy="423.4" r="0.6" fill="#8AB050"/><circle cx="245.2" cy="419.8" r="1.0" fill="#8AB050"/><circle cx="252.8" cy="422.5" r="0.8" fill="#C84A3A"/><circle cx="279.5" cy="421.6" r="0.7" fill="#8AB050"/><circle cx="272.1" cy="419.6" r="0.8" fill="#7FB04A"/><circle cx="269.4" cy="422.1" r="0.7" fill="#D0603A"/><circle cx="280.0" cy="420.2" r="0.6" fill="#D0603A"/><circle cx="259.8" cy="420.4" r="0.7" fill="#D0603A"/><circle cx="258.1" cy="421.9" r="0.6" fill="#7FB04A"/><circle cx="248.8" cy="421.4" r="0.9" fill="#C84A3A"/><circle cx="270.9" cy="422.0" r="0.8" fill="#7FB04A"/><circle cx="280.2" cy="421.5" r="0.9" fill="#C84A3A"/><circle cx="289.8" cy="411.6" r="0.7" fill="#E09040"/><circle cx="284.4" cy="415.0" r="0.7" fill="#7FB04A"/><circle cx="285.9" cy="417.8" r="0.7" fill="#D0603A"/><circle cx="286.7" cy="414.8" r="0.7" fill="#D0603A"/><circle cx="289.4" cy="414.7" r="0.7" fill="#E09040"/><circle cx="284.8" cy="418.4" r="0.7" fill="#7FB04A"/><circle cx="286.1" cy="416.5" r="0.7" fill="#D0603A"/><circle cx="289.2" cy="413.5" r="0.7" fill="#D0603A"/><circle cx="289.2" cy="414.2" r="0.7" fill="#E09040"/><circle cx="288.0" cy="414.1" r="0.7" fill="#D0603A"/>
</svg></body></html>
